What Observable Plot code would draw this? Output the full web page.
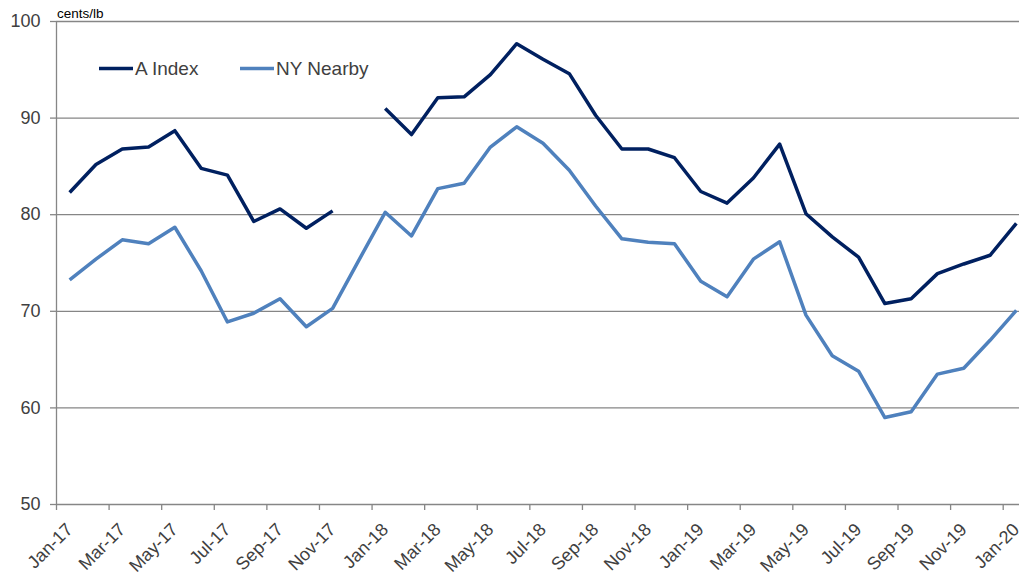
<!DOCTYPE html>
<html>
<head>
<meta charset="utf-8">
<script src="https://cdn.jsdelivr.net/npm/d3@7"></script>
<script src="https://cdn.jsdelivr.net/npm/@observablehq/plot@0.6"></script>
<style>
  html, body { margin: 0; padding: 0; background: #ffffff; }
  #chart { width: 1019px; height: 577px; overflow: hidden; }
</style>
</head>
<body>
<div id="chart"></div>
<script>
// ---- data (cents/lb, monthly Jan-17 .. Jan-20) ----
const months = [
  "Jan-17","Feb-17","Mar-17","Apr-17","May-17","Jun-17","Jul-17","Aug-17","Sep-17","Oct-17","Nov-17","Dec-17",
  "Jan-18","Feb-18","Mar-18","Apr-18","May-18","Jun-18","Jul-18","Aug-18","Sep-18","Oct-18","Nov-18","Dec-18",
  "Jan-19","Feb-19","Mar-19","Apr-19","May-19","Jun-19","Jul-19","Aug-19","Sep-19","Oct-19","Nov-19","Dec-19",
  "Jan-20"
];
const aIndex = [
  82.3, 85.2, 86.8, 87.0, 88.7, 84.8, 84.1, 79.3, 80.6, 78.6, 80.4, null,
  91.0, 88.3, 92.1, 92.2, 94.5, 97.7, 96.1, 94.6, 90.3, 86.8, 86.8, 85.9,
  82.4, 81.2, 83.8, 87.3, 80.1, 77.7, 75.6, 70.8, 71.3, 73.9, 74.9, 75.8,
  79.1
];
const nyNearby = [
  73.25, 75.4, 77.4, 77.0, 78.7, 74.2, 68.9, 69.8, 71.3, 68.4, 70.3, 75.3,
  80.25, 77.8, 82.7, 83.25, 87.0, 89.1, 87.4, 84.6, 80.9, 77.5, 77.15, 77.0,
  73.1, 71.5, 75.4, 77.2, 69.6, 65.4, 63.8, 59.0, 59.6, 63.5, 64.1, 67.0,
  70.1
];
const seriesNames = ["A Index", "NY Nearby"];
const seriesColors = ["#002060", "#4f81bd"];
const yTicks = [50, 60, 70, 80, 90, 100];
const unitLabel = "cents/lb";

// ---- build table ----
const rows = [];
months.forEach((m, i) => {
  rows.push({i, month: m, series: seriesNames[0], value: aIndex[i]});
});
months.forEach((m, i) => {
  rows.push({i, month: m, series: seriesNames[1], value: nyNearby[i]});
});
const labelIdx = months.map((m, i) => i).filter(i => i % 2 === 0);
const boundaryIdx = labelIdx.map(i => i - 0.5);

const font = "'Liberation Sans', Arial, Helvetica, sans-serif";
const grey = "#868686";
const textCol = "#404040";

const chart = Plot.plot({
  width: 1019,
  height: 577,
  marginTop: 21,
  marginBottom: 73,
  marginLeft: 56,
  marginRight: 0,
  style: {fontFamily: font, background: "#ffffff", overflow: "hidden"},
  x: {domain: [-0.5, 36.12], axis: null},
  y: {domain: [50, 100], axis: null},
  color: {domain: seriesNames, range: seriesColors},
  marks: [
    Plot.gridY(yTicks.filter(v => v > 50), {stroke: grey, strokeOpacity: 1, strokeWidth: 1.3}),
    Plot.ruleX([-0.5], {stroke: grey, strokeWidth: 1.3}),
    Plot.ruleY([50], {stroke: grey, strokeWidth: 1.3}),
    Plot.axisY(yTicks, {tickSize: 6, tickPadding: 10, stroke: grey, strokeWidth: 1.3, fontSize: 18, fill: textCol, label: null}),
    Plot.axisX(boundaryIdx, {tickSize: 6, stroke: grey, strokeWidth: 1.3, tickFormat: () => "", label: null}),
    Plot.text(labelIdx, {
      x: d => d, text: d => months[d], frameAnchor: "bottom",
      rotate: -45, textAnchor: "end", lineAnchor: "middle",
      dx: 0, dy: 22, fontSize: 18, fill: textCol
    }),
    Plot.line(rows, {x: "i", y: "value", z: "series", stroke: "series", strokeWidth: 3.5, strokeLinejoin: "round", strokeLinecap: "butt"})
  ]
});

document.getElementById("chart").appendChild(chart);

// ---- unit label and legend ----
const svg = d3.select(chart);
svg.append("text")
  .attr("x", 57).attr("y", 18)
  .attr("text-anchor", "start")
  .attr("font-family", font).attr("font-size", 13.5).attr("fill", "#000000")
  .text(unitLabel);

const legend = svg.append("g")
  .attr("font-family", font).attr("font-size", 19).attr("fill", textCol)
  .attr("text-anchor", "start");
const legendX = [99, 240];
seriesNames.forEach((name, k) => {
  legend.append("line")
    .attr("x1", legendX[k]).attr("x2", legendX[k] + 34)
    .attr("y1", 68.5).attr("y2", 68.5)
    .attr("stroke", seriesColors[k]).attr("stroke-width", 3.5);
  legend.append("text")
    .attr("x", legendX[k] + 36).attr("y", 75)
    .attr("text-anchor", "start")
    .text(name);
});
</script>
</body>
</html>
